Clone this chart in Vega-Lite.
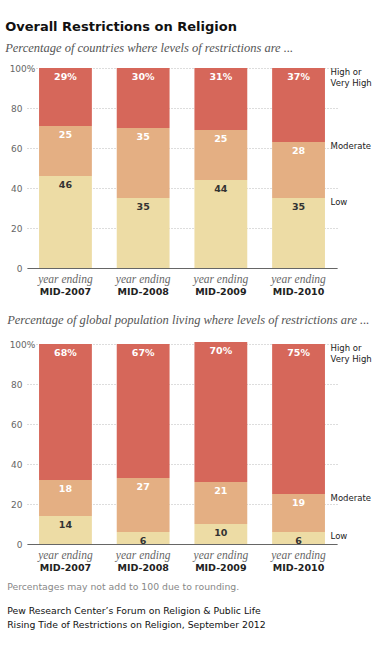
{
  "$schema": "https://vega.github.io/schema/vega-lite/v6.json",
  "background": "white",
  "padding": {"left": 5, "top": 20, "right": 3, "bottom": 5},
  "title": {
    "text": "Overall Restrictions on Religion",
    "subtitle": "Percentage of countries where levels of restrictions are ...",
    "anchor": "start",
    "frame": "bounds",
    "dx": -2,
    "font": "DejaVu Sans",
    "fontSize": 13,
    "fontWeight": "bold",
    "color": "#111111",
    "subtitleFont": "Liberation Serif",
    "subtitleFontStyle": "italic",
    "subtitleFontSize": 12.5,
    "subtitleColor": "#555555",
    "subtitlePadding": 8,
    "offset": 10
  },
  "datasets": {
    "countries": [
      {"year": "MID-2007", "level": "Low", "rank": 1, "value": 46},
      {"year": "MID-2007", "level": "Moderate", "rank": 2, "value": 25},
      {"year": "MID-2007", "level": "High or Very High", "rank": 3, "value": 29},
      {"year": "MID-2008", "level": "Low", "rank": 1, "value": 35},
      {"year": "MID-2008", "level": "Moderate", "rank": 2, "value": 35},
      {"year": "MID-2008", "level": "High or Very High", "rank": 3, "value": 30},
      {"year": "MID-2009", "level": "Low", "rank": 1, "value": 44},
      {"year": "MID-2009", "level": "Moderate", "rank": 2, "value": 25},
      {"year": "MID-2009", "level": "High or Very High", "rank": 3, "value": 31},
      {"year": "MID-2010", "level": "Low", "rank": 1, "value": 35},
      {"year": "MID-2010", "level": "Moderate", "rank": 2, "value": 28},
      {"year": "MID-2010", "level": "High or Very High", "rank": 3, "value": 37}
    ],
    "population": [
      {"year": "MID-2007", "level": "Low", "rank": 1, "value": 14},
      {"year": "MID-2007", "level": "Moderate", "rank": 2, "value": 18},
      {"year": "MID-2007", "level": "High or Very High", "rank": 3, "value": 68},
      {"year": "MID-2008", "level": "Low", "rank": 1, "value": 6},
      {"year": "MID-2008", "level": "Moderate", "rank": 2, "value": 27},
      {"year": "MID-2008", "level": "High or Very High", "rank": 3, "value": 67},
      {"year": "MID-2009", "level": "Low", "rank": 1, "value": 10},
      {"year": "MID-2009", "level": "Moderate", "rank": 2, "value": 21},
      {"year": "MID-2009", "level": "High or Very High", "rank": 3, "value": 70},
      {"year": "MID-2010", "level": "Low", "rank": 1, "value": 6},
      {"year": "MID-2010", "level": "Moderate", "rank": 2, "value": 19},
      {"year": "MID-2010", "level": "High or Very High", "rank": 3, "value": 75}
    ]
  },
  "spacing": 14,
  "vconcat": [
    {
      "width": 310,
      "height": 200,
      "data": {"name": "countries"},
      "title": {
        "text": "Percentage of global population living where levels of restrictions are ...",
        "orient": "bottom",
        "anchor": "start",
        "frame": "bounds",
        "dx": -2,
        "font": "Liberation Serif",
        "fontStyle": "italic",
        "fontWeight": "normal",
        "fontSize": 12.5,
        "color": "#555555",
        "offset": 18
      },
      "transform": [
        {"stack": "value", "groupby": ["year"], "sort": [{"field": "rank", "order": "ascending"}], "as": ["v0", "v1"]},
        {"calculate": "datum.level === 'High or Very High' ? datum.value + '%' : '' + datum.value", "as": "vlabel"},
        {"calculate": "replace(datum.level, 'or ', 'or\\n')", "as": "legendText"}
      ],
      "layer": [
        {
          "mark": {"type": "bar", "clip": false},
          "encoding": {
            "x": {"field": "year", "type": "nominal", "scale": {"paddingInner": 0.32, "paddingOuter": 0.155},
              "axis": {"orient": "bottom", "title": null, "labelAngle": 0, "labelExpr": "'year ending'", "labelFont": "Liberation Serif", "labelFontStyle": "italic", "labelFontSize": 11.5, "labelColor": "#666666", "labelPadding": 5, "ticks": false, "domainColor": "#666666"}},
            "y": {"field": "v0", "type": "quantitative", "scale": {"domain": [0, 100]}, "axis": {"title": null}},
            "y2": {"field": "v1"},
            "color": {"field": "level", "type": "nominal", "scale": {"domain": ["Low", "Moderate", "High or Very High"], "range": ["#EDDCA5", "#E4AF83", "#D6675A"]}, "legend": null}
          }
        },
        {
          "mark": {"type": "text", "baseline": "top", "dy": 4, "font": "DejaVu Sans", "fontWeight": "bold", "fontSize": 9.5},
          "encoding": {
            "x": {"field": "year", "type": "nominal",
              "axis": {"orient": "bottom", "title": null, "labelAngle": 0, "labelFont": "DejaVu Sans", "labelFontWeight": "bold", "labelFontSize": 9.5, "labelColor": "#222222", "labelPadding": 18, "ticks": false, "domain": false}},
            "y": {"field": "v1", "type": "quantitative"},
            "text": {"field": "vlabel"},
            "color": {"condition": {"test": "datum.level === 'Low'", "value": "#333333"}, "value": "white"}
          }
        },
        {
          "transform": [{"filter": "datum.year === 'MID-2010'"}],
          "mark": {"type": "text", "align": "left", "baseline": "top", "dx": 32, "dy": 0, "lineBreak": "\n", "lineHeight": 11, "font": "DejaVu Sans", "fontSize": 8.5, "color": "#222222"},
          "encoding": {
            "x": {"field": "year", "type": "nominal", "axis": null},
            "y": {"field": "v1", "type": "quantitative"},
            "text": {"field": "legendText"}
          }
        }
      ],
      "resolve": {"axis": {"x": "independent"}}
    },
    {
      "width": 310,
      "height": 200,
      "data": {"name": "population"},
      "title": {
        "text": "Percentages may not add to 100 due to rounding.",
        "subtitle": ["Pew Research Center’s Forum on Religion & Public Life", "Rising Tide of Restrictions on Religion, September 2012"],
        "orient": "bottom",
        "anchor": "start",
        "frame": "bounds",
        "dx": -2,
        "font": "DejaVu Sans",
        "fontWeight": "normal",
        "fontSize": 9.3,
        "color": "#888888",
        "subtitleFont": "DejaVu Sans",
        "subtitleFontSize": 9.3,
        "subtitleColor": "#111111",
        "subtitlePadding": 15,
        "subtitleLineHeight": 14,
        "offset": 11
      },
      "transform": [
        {"stack": "value", "groupby": ["year"], "sort": [{"field": "rank", "order": "ascending"}], "as": ["v0", "v1"]},
        {"calculate": "datum.level === 'High or Very High' ? datum.value + '%' : '' + datum.value", "as": "vlabel"},
        {"calculate": "replace(datum.level, 'or ', 'or\\n')", "as": "legendText"}
      ],
      "layer": [
        {
          "mark": {"type": "bar", "clip": false},
          "encoding": {
            "x": {"field": "year", "type": "nominal", "scale": {"paddingInner": 0.32, "paddingOuter": 0.155},
              "axis": {"orient": "bottom", "title": null, "labelAngle": 0, "labelExpr": "'year ending'", "labelFont": "Liberation Serif", "labelFontStyle": "italic", "labelFontSize": 11.5, "labelColor": "#666666", "labelPadding": 5, "ticks": false, "domainColor": "#666666"}},
            "y": {"field": "v0", "type": "quantitative", "scale": {"domain": [0, 100]}, "axis": {"title": null}},
            "y2": {"field": "v1"},
            "color": {"field": "level", "type": "nominal", "scale": {"domain": ["Low", "Moderate", "High or Very High"], "range": ["#EDDCA5", "#E4AF83", "#D6675A"]}, "legend": null}
          }
        },
        {
          "mark": {"type": "text", "baseline": "top", "dy": 4, "font": "DejaVu Sans", "fontWeight": "bold", "fontSize": 9.5},
          "encoding": {
            "x": {"field": "year", "type": "nominal",
              "axis": {"orient": "bottom", "title": null, "labelAngle": 0, "labelFont": "DejaVu Sans", "labelFontWeight": "bold", "labelFontSize": 9.5, "labelColor": "#222222", "labelPadding": 18, "ticks": false, "domain": false}},
            "y": {"field": "v1", "type": "quantitative"},
            "text": {"field": "vlabel"},
            "color": {"condition": {"test": "datum.level === 'Low'", "value": "#333333"}, "value": "white"}
          }
        },
        {
          "transform": [{"filter": "datum.year === 'MID-2010'"}],
          "mark": {"type": "text", "align": "left", "baseline": "top", "dx": 32, "dy": 0, "lineBreak": "\n", "lineHeight": 11, "font": "DejaVu Sans", "fontSize": 8.5, "color": "#222222"},
          "encoding": {
            "x": {"field": "year", "type": "nominal", "axis": null},
            "y": {"field": "v1", "type": "quantitative"},
            "text": {"field": "legendText"}
          }
        }
      ],
      "resolve": {"axis": {"x": "independent"}}
    }
  ],
  "config": {
    "view": {"stroke": null},
    "axisY": {
      "values": [0, 20, 40, 60, 80, 100],
      "tickCount": 5,
      "labelOverlap": false,
      "labelExpr": "datum.value === 100 ? '100%' : datum.label",
      "labelAlign": {"condition": {"test": "datum.value === 100", "value": "center"}, "value": "right"},
      "labelPadding": 5,
      "domain": false,
      "ticks": false,
      "grid": true,
      "gridDash": [1, 2],
      "gridColor": "#bbbbbb",
      "labelFont": "DejaVu Sans",
      "labelFontSize": 9,
      "labelColor": "#666666"
    }
  }
}
